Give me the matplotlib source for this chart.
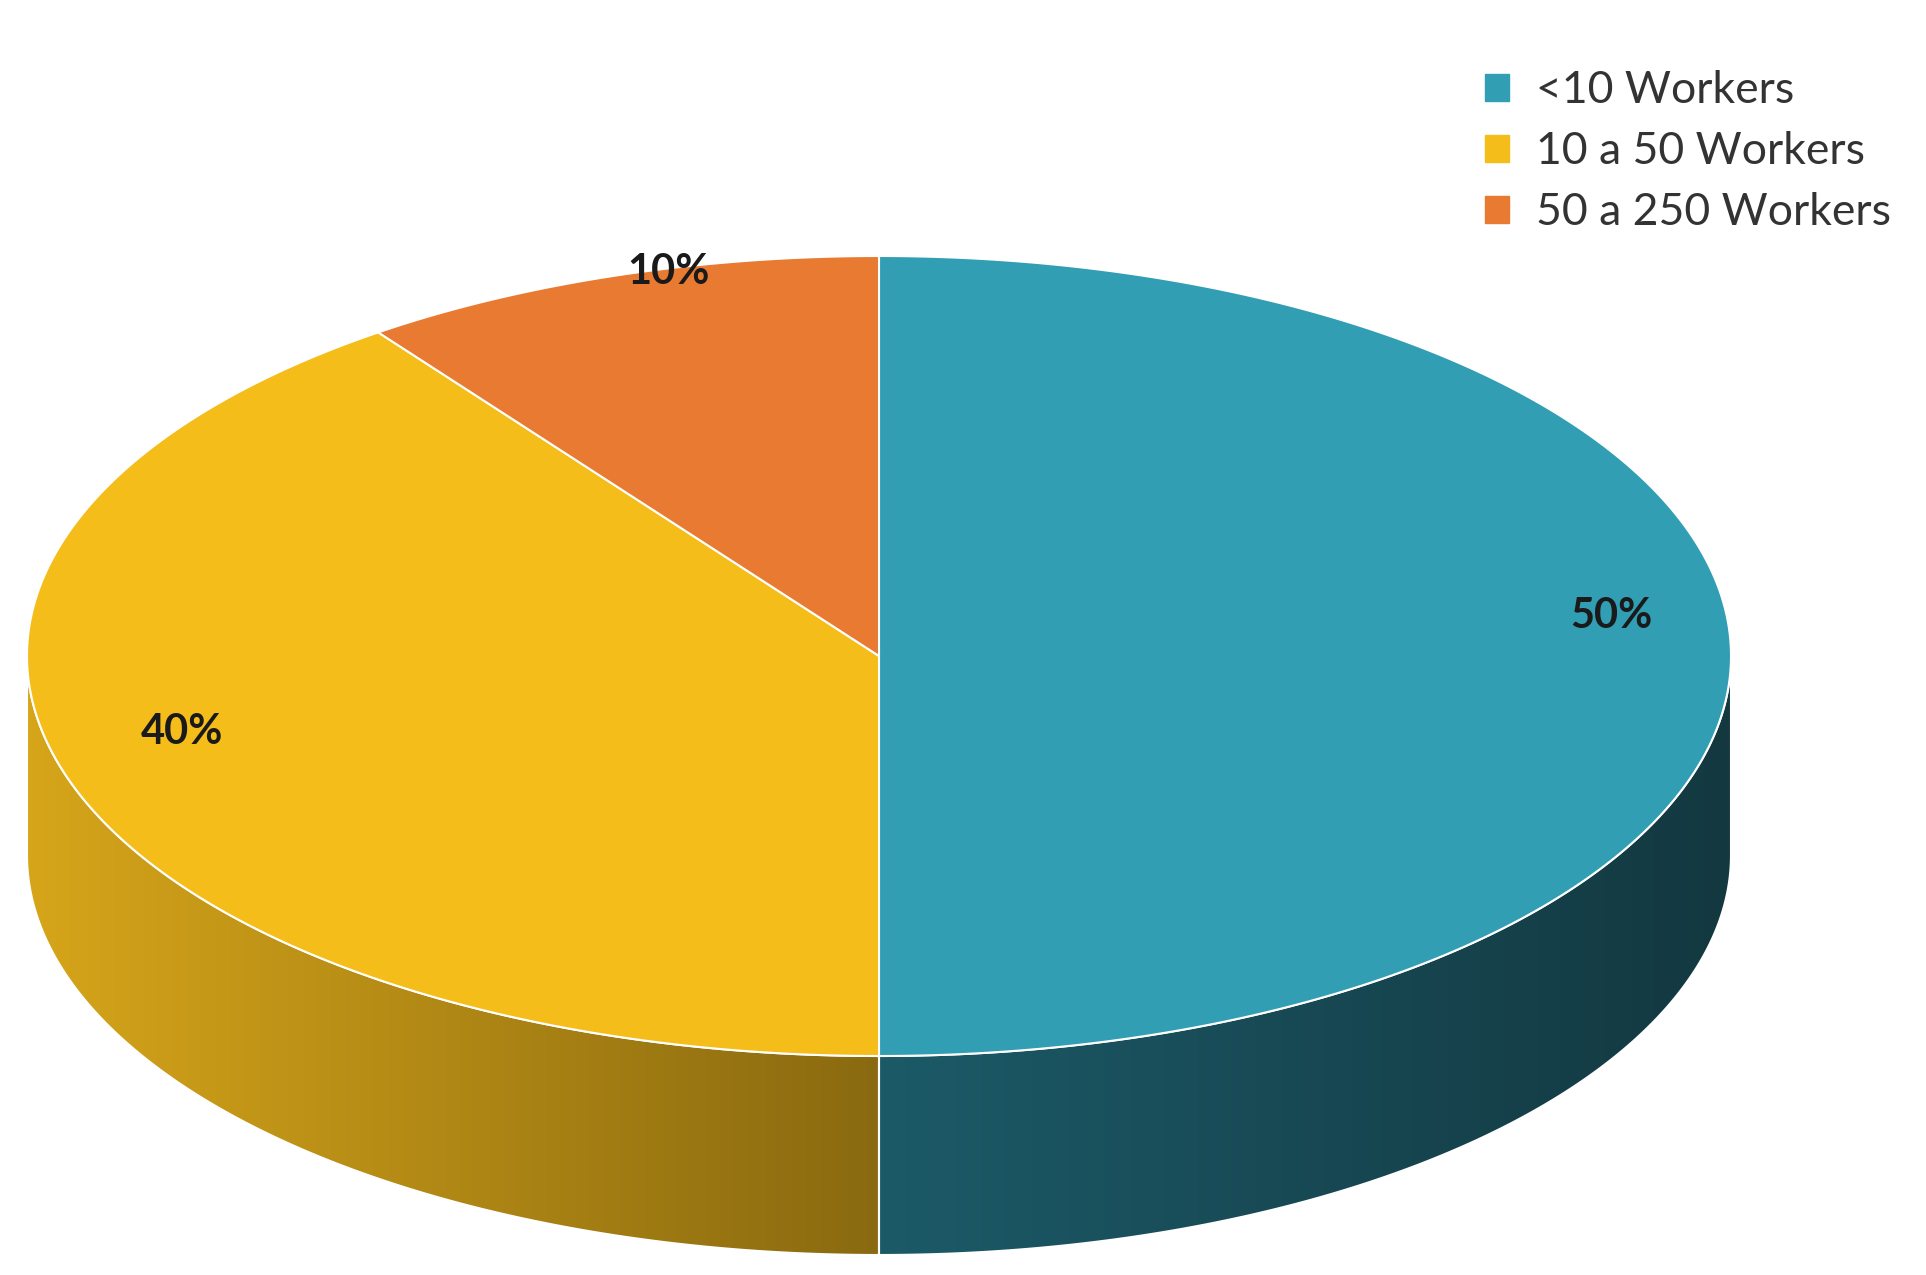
import numpy as np
import matplotlib.pyplot as plt
from matplotlib.patches import Polygon
from matplotlib.colors import LinearSegmentedColormap

labels = ['<10 Workers', '10 a 50 Workers', '50 a 250 Workers']
values = [50, 40, 10]
colors = ['#319eb3', '#f5bd1a', '#e87a31']
# side gradients (light -> dark, left to right)
side_cols = [('#1c5a68', '#133840'), ('#d6a51a', '#8a6a10'), ('#b85e20', '#7a3e14')]

plt.rcParams['font.family'] = ['Lato', 'DejaVu Sans']
fig = plt.figure(figsize=(19.26, 12.75), dpi=100)
ax = fig.add_axes([0, 0, 1, 1])
ax.set_xlim(0, 1926)
ax.set_ylim(1275, 0)
ax.axis('off')

cx, cy, rx, ry, depth = 879, 656, 852, 400, 199


def pt(t, dy=0):
    return cx + rx * np.cos(t), cy - ry * np.sin(t) + dy


total = sum(values)
start = np.pi / 2
slices = []
for v in values:
    end = start - 2 * np.pi * v / total
    slices.append((start, end))
    start = end

# sides
for (s, e), (c1, c2) in zip(slices, side_cols):
    t = np.linspace(s, e, 400)
    t = t[np.sin(t) <= 1e-9]
    if len(t) < 2:
        continue
    x, y = pt(t)
    xb, yb = pt(t[::-1], depth)
    poly = Polygon(np.column_stack([np.r_[x, xb], np.r_[y, yb]]), closed=True,
                   facecolor='none', edgecolor='white', lw=1.5, zorder=2)
    ax.add_patch(poly)
    cmap = LinearSegmentedColormap.from_list('g', [c1, c2])
    grad = np.linspace(0, 1, 256).reshape(1, -1)
    im = ax.imshow(grad, cmap=cmap, aspect='auto',
                   extent=[min(x.min(), xb.min()), max(x.max(), xb.max()),
                           max(y.max(), yb.max()), min(y.min(), yb.min())], zorder=1)
    im.set_clip_path(poly)

# tops
for (s, e), c in zip(slices, colors):
    t = np.linspace(s, e, 400)
    x, y = pt(t)
    ax.add_patch(Polygon(np.column_stack([np.r_[cx, x], np.r_[cy, y]]), closed=True,
                         facecolor=c, edgecolor='white', lw=1.5, zorder=3))

# percentage labels
for (s, e), v in zip(slices, values):
    m = (s + e) / 2
    r = 0.86 if v > 20 else 0.8
    ax.text(cx + r * rx * np.cos(m), cy - r * ry * np.sin(m) - 50 * (v <= 20) + (-40 if v == 50 else -30),
            f'{v}%', ha='center', va='center', fontsize=30, fontweight='bold',
            color='#1a1a1a', zorder=5)

handles = [plt.Rectangle((0, 0), 1, 1, color=c) for c in colors]
ax.legend(handles, labels, loc='upper left', bbox_to_anchor=(1445, 30),
          bbox_transform=ax.transData, frameon=False, fontsize=32,
          handlelength=0.55, handleheight=0.55, handletextpad=0.6, labelspacing=0.45,
          labelcolor='#333333')

fig.savefig('out.png', dpi=100)
